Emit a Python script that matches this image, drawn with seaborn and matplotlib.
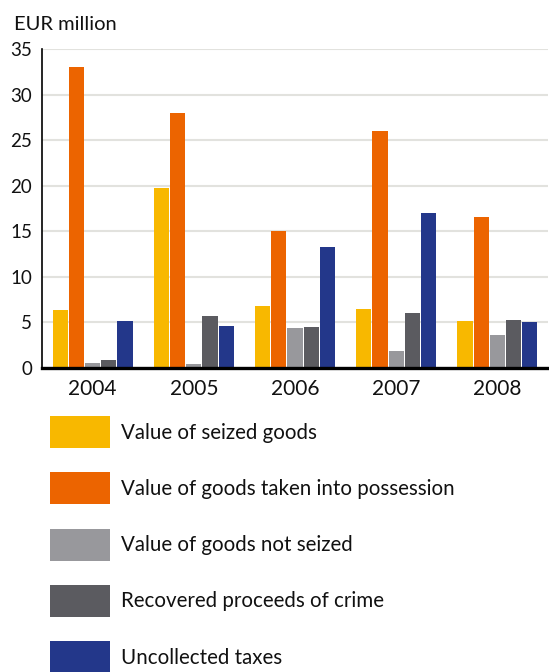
import numpy as np
import pandas as pd
import matplotlib
matplotlib.use("Agg")
import matplotlib.pyplot as plt
import seaborn as sns

# Data (EUR million)
years = ["2004", "2005", "2006", "2007", "2008"]
series = [
    "Value of seized goods",
    "Value of goods taken into possession",
    "Value of goods not seized",
    "Recovered proceeds of crime",
    "Uncollected taxes",
]
seized = [6.4, 19.7, 6.8, 6.5, 5.2]
possession = [33.0, 28.0, 15.0, 26.0, 16.6]
not_seized = [0.5, 0.4, 4.4, 1.9, 3.6]
recovered = [0.9, 5.7, 4.5, 6.0, 5.3]
taxes = [5.2, 4.6, 13.3, 17.0, 5.1]
y_ticks = [0, 5, 10, 15, 20, 25, 30, 35]
colors = ["#F8B800", "#EC6400", "#98989C", "#5B5B60", "#23378A"]

values = [seized, possession, not_seized, recovered, taxes]
df = pd.DataFrame(
    [(y, s, v[i]) for s, v in zip(series, values) for i, y in enumerate(years)],
    columns=["year", "series", "value"],
)

sns.set_style("white")
plt.rcParams["font.family"] = ["Lato", "DejaVu Sans"]

W, H = 549, 672
fig = plt.figure(figsize=(W / 100, H / 100), dpi=100)
ax = fig.add_axes([42 / W, 1 - 368 / H, (548 - 42) / W, (368 - 49) / H])

sns.barplot(
    data=df, x="year", y="value", hue="series", order=years, hue_order=series,
    palette=colors, width=0.8, gap=0.06, linewidth=0, saturation=1,
    errorbar=None, ax=ax,
)

ax.set_xlim(-0.5, 4.5)
ax.set_ylim(0, 35)
ax.set_yticks(y_ticks)
ax.set_xlabel("")
ax.set_ylabel("")
ax.yaxis.grid(True, color="#e2e2de", lw=1.5)
ax.set_axisbelow(True)

for side in ("top", "right"):
    ax.spines[side].set_visible(False)
ax.spines["left"].set_color("black")
ax.spines["left"].set_linewidth(1.2)
ax.spines["bottom"].set_color("black")
ax.spines["bottom"].set_linewidth(2.4)

ax.tick_params(axis="y", length=0, pad=7, labelsize=13.5, labelcolor="#111111")
ax.tick_params(axis="x", which="major", length=0, pad=8, labelsize=15, labelcolor="#111111")
ax.set_xticks(np.arange(-0.5, 5, 1), minor=True)
ax.tick_params(axis="x", which="minor", direction="in", length=6, width=2, color="black")

fig.text(14 / W, 1 - 30 / H, "EUR million", fontsize=14.5, color="#111111", va="baseline", ha="left")

handles, labels = ax.get_legend_handles_labels()
ax.get_legend().remove()
fs = 14.8
unit = fs * 100 / 72  # pixels per font-size unit
patch_h = 32 / unit
fig.legend(
    handles, labels, loc="upper left", bbox_to_anchor=(50 / W, 1 - 416 / H),
    bbox_transform=fig.transFigure, frameon=False, fontsize=fs,
    handlelength=60 / unit, handleheight=(patch_h - 0.245) / 0.65,
    labelspacing=24.3 / unit, handletextpad=11 / unit,
    borderpad=0, borderaxespad=0, labelcolor="#111111",
)

fig.savefig("out.png", dpi=100)
